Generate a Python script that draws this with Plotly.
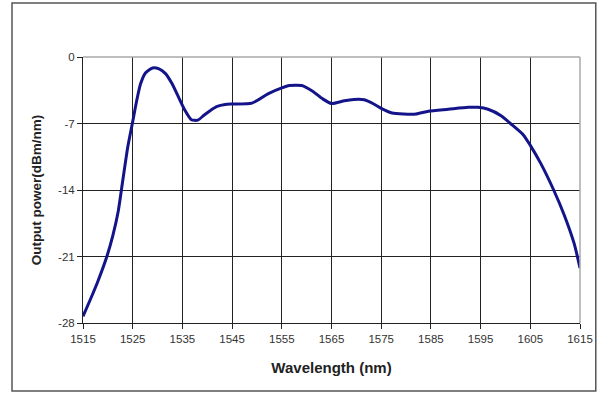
import plotly.graph_objects as go

wavelength = [1515, 1516.5, 1518, 1519.8, 1521, 1522.1, 1523, 1524, 1525, 1525.8,
              1526.6, 1527.6, 1529, 1530.3, 1531.6, 1532.9, 1534.2, 1535.5, 1536.8, 1538.1,
              1539.4, 1540.7, 1542, 1543.6, 1545, 1549, 1552.3, 1555, 1556.5, 1559, 1561.2,
              1563.2, 1565, 1567.6, 1569.5, 1571.6, 1573.6, 1575, 1577.2, 1579.5, 1582,
              1584.5, 1588.5, 1592.5, 1594.5, 1596.5, 1599.2, 1601, 1603.6, 1605, 1607.1,
              1609.7, 1611.8, 1613.8, 1615]
power = [-27.3, -25.5, -23.6, -21.0, -18.8, -16.2, -13.0, -9.5, -6.8, -4.6,
         -2.8, -1.65, -1.15, -1.25, -1.75, -2.8, -4.2, -5.6, -6.6, -6.65,
         -6.1, -5.6, -5.2, -5.0, -4.95, -4.85, -3.85, -3.25, -3.0, -3.0, -3.6,
         -4.4, -4.9, -4.6, -4.47, -4.5, -4.97, -5.4, -5.9, -6.0, -6.0,
         -5.7, -5.5, -5.3, -5.3, -5.5, -6.2, -7.0, -8.2, -9.3, -11.2,
         -14.0, -16.6, -19.6, -22.2]

x_ticks = [1515, 1525, 1535, 1545, 1555, 1565, 1575, 1585, 1595, 1605, 1615]
y_ticks = [-28, -21, -14, -7, 0]

fig = go.Figure()
fig.add_trace(go.Scatter(x=wavelength, y=power, mode="lines",
                         line=dict(color="#14148a", width=3, shape="spline", smoothing=0.6),
                         showlegend=False))

fig.update_layout(
    width=605, height=395,
    margin=dict(l=83, r=18, t=57, b=72),
    paper_bgcolor="white", plot_bgcolor="white",
    font=dict(family="Liberation Sans, Arial, sans-serif", color="#222"),
    xaxis=dict(range=[1515, 1615], tickvals=x_ticks, ticktext=[str(v) for v in x_ticks],
               showgrid=True, gridcolor="#222", gridwidth=1,
               showline=True, linecolor="#222", linewidth=1,
               ticks="outside", ticklen=5, tickcolor="#222",
               tickfont=dict(size=11.5, color="#333"),
               title=dict(text="<b>Wavelength (nm)</b>", font=dict(size=15, color="#222"), standoff=18),
               zeroline=False, fixedrange=True),
    yaxis=dict(range=[-28, 0], tickvals=y_ticks, ticktext=[str(v) for v in y_ticks],
               showgrid=True, gridcolor="#222", gridwidth=1,
               showline=True, linecolor="#222", linewidth=1,
               ticks="outside", ticklen=5, tickcolor="#222",
               tickfont=dict(size=11.5, color="#333"),
               title=dict(text="<b>Output power(dBm/nm)</b>", font=dict(size=13.5, color="#222"), standoff=13),
               zeroline=False, fixedrange=True),
)

# light gray top/right plot border
fig.add_shape(type="line", xref="paper", yref="paper", x0=0, x1=1, y0=1, y1=1,
              line=dict(color="#a8a8a8", width=1.5))
fig.add_shape(type="line", xref="paper", yref="paper", x0=1, x1=1, y0=0, y1=1,
              line=dict(color="#a8a8a8", width=1.5))
# outer frame
fig.add_shape(type="rect", xref="paper", yref="paper",
              x0=(11 - 83) / 504, x1=(603 - 83) / 504,
              y0=(323 - 391) / 266, y1=(323 - 3) / 266,
              line=dict(color="#555", width=1.5))

fig.write_html("out.html", config={"displayModeBar": False, "responsive": False},
               post_script="document.body.style.margin='0';document.body.style.overflow='hidden';")
